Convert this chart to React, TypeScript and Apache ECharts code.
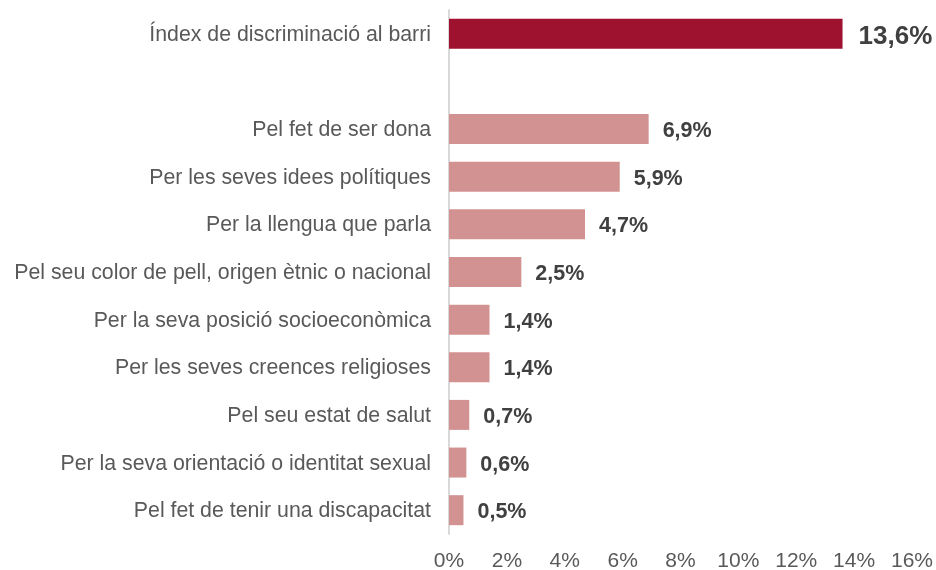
import React, { useEffect, useRef } from "react";
import * as echarts from "echarts";

const categories = [
  "Índex de discriminació al barri",
  "",
  "Pel fet de ser dona",
  "Per les seves idees polítiques",
  "Per la llengua que parla",
  "Pel seu color de pell, origen ètnic o nacional",
  "Per la seva posició socioeconòmica",
  "Per les seves creences religioses",
  "Pel seu estat de salut",
  "Per la seva orientació o identitat sexual",
  "Pel fet de tenir una discapacitat",
];
const values: (number | null)[] = [13.6, null, 6.9, 5.9, 4.7, 2.5, 1.4, 1.4, 0.7, 0.6, 0.5];
const xTicks = { min: 0, max: 16, interval: 2 };

const fmt = (v: number) => v.toFixed(1).replace(".", ",") + "%";
const FONT = "'Liberation Sans', Arial, sans-serif";

export default function App() {
  const ref = useRef<HTMLDivElement>(null);
  useEffect(() => {
    if (!ref.current) return;
    const chart = echarts.init(ref.current, undefined, { renderer: "svg" });
    const data = values.map((v, i) =>
      v === null
        ? "-"
        : {
            value: v,
            itemStyle: { color: i === 0 ? "#9E1230" : "#D39292" },
            label: i === 0 ? { fontSize: 26, offset: [2, 1] } : {},
          }
    );
    chart.setOption({
      animation: false,
      grid: { left: 449, right: 24, top: 10, bottom: 32, containLabel: false },
      xAxis: {
        type: "value",
        min: xTicks.min,
        max: xTicks.max,
        interval: xTicks.interval,
        axisLine: { show: false },
        axisTick: { show: false },
        splitLine: { show: false },
        axisLabel: {
          formatter: (v: number) => v + "%",
          color: "#595959",
          fontSize: 21,
          fontFamily: FONT,
          margin: 15,
        },
      },
      yAxis: {
        type: "category",
        inverse: true,
        data: categories,
        axisLine: { show: true, lineStyle: { color: "#D9D9D9", width: 2 } },
        axisTick: { show: false },
        axisLabel: {
          color: "#595959",
          fontSize: 21.3,
          fontFamily: FONT,
          margin: 18,
        },
      },
      series: [
        {
          type: "bar",
          data,
          barWidth: 30,
          label: {
            show: true,
            position: "right",
            distance: 14,
            formatter: (p: any) => fmt(p.value),
            color: "#404040",
            fontWeight: "bold",
            fontSize: 21.5,
            fontFamily: FONT,
            offset: [0, 1],
          },
        },
      ],
    });
    return () => chart.dispose();
  }, []);
  return (
    <div
      ref={ref}
      style={{ position: "fixed", left: 0, top: 0, width: 936, height: 570 }}
    />
  );
}
